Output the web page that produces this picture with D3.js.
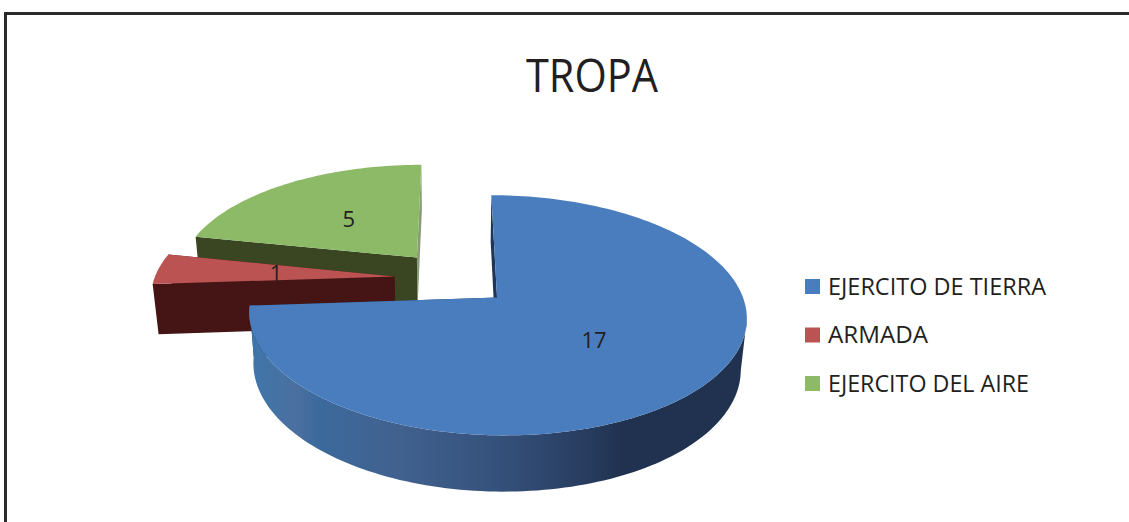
<!DOCTYPE html>
<html>
    <head>
        <title>TROPA</title>
        <meta charset="utf-8">
        <style>
            html, body {
                margin: 0px;
                padding: 0px;
                background-color: #fff;
            }

            svg {
                display: block;
            }

            svg text {
                font-family: "Open Sans", sans-serif;
                fill: #231f20;
            }

            .frame {
                fill: none;
                stroke: #2b2a2b;
                stroke-width: 3;
            }

            .title {
                font-size: 46px;
                text-anchor: middle;
            }

            .value {
                font-size: 22px;
                text-anchor: middle;
            }

            .legend text {
                font-size: 23px;
            }
        </style>
        <script src="https://cdn.jsdelivr.net/npm/d3@7"></script>
    </head>
    <body>
        <div id="main">
        </div>

        <script>
            var categories = ["EJERCITO DE TIERRA", "ARMADA", "EJERCITO DEL AIRE"];
            var values = [17, 1, 5];
            var topColors = ["#4a7dbd", "#ba5352", "#8cba66"];
            var startCutColors = ["#1f3557", "#451516", "#3a4522"];
            var endCutColors = ["#1f3557", "#451516", "#8a9c76"];
            var wallColors = ["url(#blueWall)", "#451516", "#8a9c76"];
            var legendWidths = [218, 100, 201];

            var width = 1129;
            var height = 522;

            // how the flat pie is tilted on the page
            var perspective = 0.145;
            var sink = 0.02;
            var depth = 51;
            var explode = 0.245;

            var x = d3.scaleLinear().domain([0, 1]).range([453, 693]);
            var y = d3.scaleLinear().domain([0, 1]).range([278.3, 390.1]);

            function project(u, v, z) {
                var s = 1 / (1 - perspective * v + sink * z);
                return [x(u * s), y(v * s) + depth * z * s];
            }

            // point of a slice, r is the fraction of the radius, z 0 on top and 1 at the base
            function slicePoint(d, r, angle, z) {
                var mid = (d.startAngle + d.endAngle) / 2;
                var u = explode * Math.sin(mid) + r * Math.sin(angle);
                var v = -explode * Math.cos(mid) - r * Math.cos(angle);
                return project(u, v, z);
            }

            function arcAngles(d) {
                var steps = Math.ceil((d.endAngle - d.startAngle) * 40);
                return d3.range(steps + 1).map(function(i) {
                    return d.startAngle + (d.endAngle - d.startAngle) * i / steps;
                });
            }

            var line = d3.line();

            function topPath(d) {
                var pts = [slicePoint(d, 0, 0, 0)];
                arcAngles(d).forEach(function(a) { pts.push(slicePoint(d, 1, a, 0)); });
                return line(pts) + "Z";
            }

            // the wall only shows from the rightmost point of the rim onwards
            function wallPath(d) {
                var angles = arcAngles(d);
                var first = d3.greatestIndex(angles, function(a) { return slicePoint(d, 1, a, 0)[0]; });
                angles = angles.slice(first);
                var pts = angles.map(function(a) { return slicePoint(d, 1, a, 0); });
                angles.slice().reverse().forEach(function(a) { pts.push(slicePoint(d, 1, a, 1)); });
                return line(pts) + "Z";
            }

            function cutPath(d, angle) {
                return line([
                    slicePoint(d, 0, angle, 0),
                    slicePoint(d, 1, angle, 0),
                    slicePoint(d, 1, angle, 1),
                    slicePoint(d, 0, angle, 1)
                ]) + "Z";
            }

            function main() {
                var svg = d3.select("#main")
                            .append("svg")
                            .attr("width", width)
                            .attr("height", height);

                var grad = svg.append("defs").append("linearGradient")
                    .attr("id", "blueWall")
                    .attr("gradientUnits", "userSpaceOnUse")
                    .attr("x1", x(-0.85)).attr("x2", x(1.2))
                    .attr("y1", 0).attr("y2", 0);
                [[0, "#3f76aa"], [0.1, "#4a6f9f"], [0.14, "#3b6a9c"], [0.3, "#41618f"],
                 [0.5, "#35527c"], [0.68, "#283d60"], [0.76, "#20324f"], [1, "#20324f"]]
                    .forEach(function(s) {
                        grad.append("stop").attr("offset", s[0]).attr("stop-color", s[1]);
                    });

                svg.append("path")
                    .attr("class", "frame")
                    .attr("d", "M5.5," + height + "V13.5H" + width);

                svg.append("text")
                    .attr("class", "title")
                    .attr("x", 592)
                    .attr("y", 92)
                    .attr("textLength", 132)
                    .attr("lengthAdjust", "spacingAndGlyphs")
                    .text("TROPA");

                var slices = d3.pie().sort(null).startAngle(0).endAngle(2 * Math.PI)(values);

                // back slices first, the blue one sits in front of the others
                var order = [2, 1, 0];
                var g = svg.selectAll("g.slice")
                    .data(order.map(function(i) { return slices[i]; }))
                    .enter()
                    .append("g")
                    .attr("class", "slice");

                g.append("path")
                    .attr("fill", function(d) { return endCutColors[d.index]; })
                    .attr("d", function(d) { return cutPath(d, d.endAngle); });

                g.append("path")
                    .attr("fill", function(d) { return wallColors[d.index]; })
                    .attr("d", wallPath);

                g.append("path")
                    .attr("fill", function(d) { return startCutColors[d.index]; })
                    .attr("d", function(d) { return cutPath(d, d.startAngle); });

                g.append("path")
                    .attr("fill", function(d) { return topColors[d.index]; })
                    .attr("d", topPath);

                // value labels go over every slice
                svg.selectAll("text.value")
                    .data(slices)
                    .enter()
                    .append("text")
                    .attr("class", "value")
                    .attr("dy", "0.4em")
                    .attr("transform", function(d) {
                        return "translate(" + slicePoint(d, 0.5, (d.startAngle + d.endAngle) / 2, 0) + ")";
                    })
                    .text(function(d) { return d.value; });

                var legendY = d3.scalePoint().domain(categories).range([286.5, 383.5]);

                var item = svg.selectAll("g.legend")
                    .data(categories)
                    .enter()
                    .append("g")
                    .attr("class", "legend")
                    .attr("transform", function(d) { return "translate(805," + legendY(d) + ")"; });

                item.append("rect")
                    .attr("y", -7.5)
                    .attr("width", 15)
                    .attr("height", 15)
                    .attr("fill", function(d, i) { return topColors[i]; });

                item.append("text")
                    .attr("x", 23)
                    .attr("y", 8)
                    .attr("textLength", function(d, i) { return legendWidths[i]; })
                    .attr("lengthAdjust", "spacingAndGlyphs")
                    .text(function(d) { return d; });
            }

            main();
        </script>
    </body>
</html>
